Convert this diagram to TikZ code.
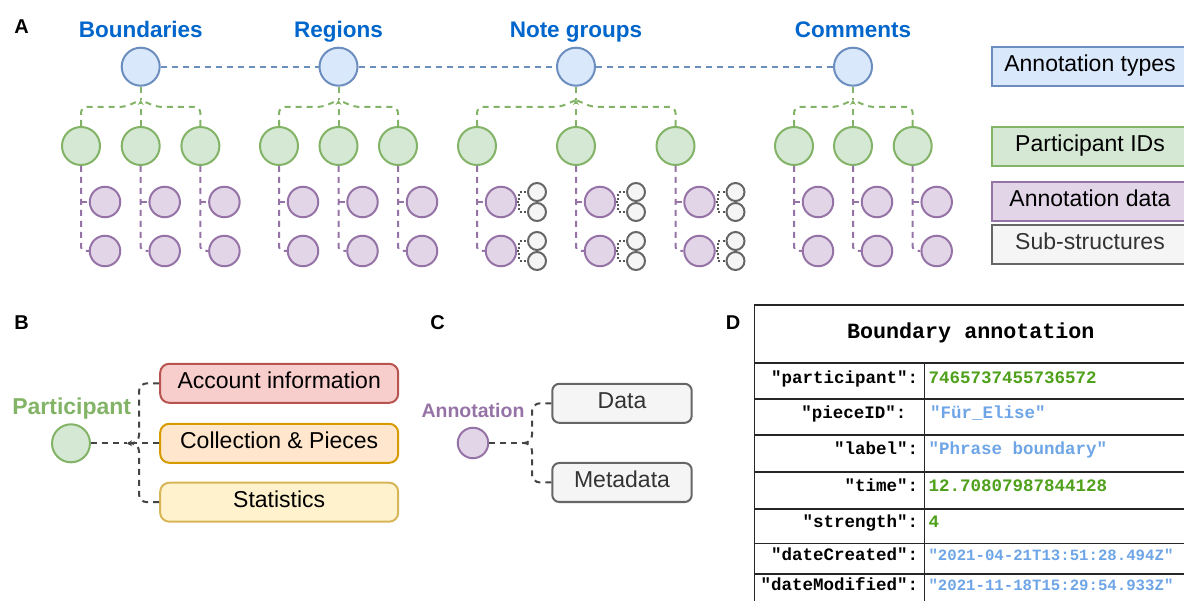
\documentclass[tikz,border=0pt]{standalone}
\usepackage{fontspec}
\setmainfont{Liberation Sans}
\setmonofont{Liberation Mono}
\usetikzlibrary{arrows.meta,calc}
\definecolor{blueF}{HTML}{DAE8FC}\definecolor{blueS}{HTML}{6C8EBF}
\definecolor{greenF}{HTML}{D5E8D4}\definecolor{greenS}{HTML}{82B366}
\definecolor{purpF}{HTML}{E1D5E7}\definecolor{purpS}{HTML}{9673A6}
\definecolor{greyF}{HTML}{F5F5F5}\definecolor{greyS}{HTML}{666666}
\definecolor{redF}{HTML}{F8CECC}\definecolor{redS}{HTML}{B85450}
\definecolor{orangeF}{HTML}{FFE6CC}\definecolor{orangeS}{HTML}{D79B00}
\definecolor{yellowF}{HTML}{FFF2CC}\definecolor{yellowS}{HTML}{D6B656}
\definecolor{titleBlue}{HTML}{0066CC}
\definecolor{valGreen}{HTML}{4FA01A}
\definecolor{valBlue}{HTML}{6EA5E6}
\definecolor{connGrey}{HTML}{444444}
\definecolor{dotGrey}{HTML}{555555}
\begin{document}
\begin{tikzpicture}[x=1pt,y=-1pt,
  circ/.style={circle, line width=2pt, inner sep=0pt},
  topc/.style={circ, minimum size=38pt, fill=blueF, draw=blueS},
  grc/.style={circ, minimum size=38pt, fill=greenF, draw=greenS},
  pc/.style={circ, minimum size=30.5pt, fill=purpF, draw=purpS},
  sc/.style={circ, minimum size=18pt, fill=greyF, draw=greyS},
  title/.style={font=\fontsize{22.5}{27}\selectfont\bfseries, text=titleBlue, anchor=base, inner sep=0pt},
  panel/.style={font=\fontsize{20}{22}\selectfont\bfseries, inner sep=0pt},
  legbox/.style={draw, line width=2pt, minimum width=196pt, minimum height=39pt, inner sep=0pt,
     text height=16pt, text depth=6pt, font=\fontsize{23}{27}\selectfont},
  rbox/.style={legbox, rounded corners=9pt},
  gline/.style={draw=greenS, line width=2pt, dash pattern=on 6pt off 5pt},
  pline/.style={draw=purpS, line width=2pt, dash pattern=on 6pt off 5pt},
  bline/.style={draw=blueS, line width=1.8pt, dash pattern=on 6pt off 5pt},
  dline/.style={draw=dotGrey, line width=2pt, dash pattern=on 2pt off 2.2pt},
  kline/.style={draw=connGrey, line width=2pt, dash pattern=on 6pt off 5pt},
  tline/.style={draw=black!85, line width=1.6pt},
  keyt/.style={font=\fontsize{17.5}{20}\selectfont\ttfamily\bfseries, anchor=base east, inner sep=0pt},
  valt/.style={font=\fontsize{17.5}{20}\selectfont\ttfamily\bfseries, anchor=base west, inner sep=0pt},
  datet/.style={font=\fontsize{15.7}{18}\selectfont\ttfamily\bfseries, anchor=base west, inner sep=0pt, text=valBlue},
  tip/.style={-{Stealth[length=5pt,width=6pt]}}
]
\useasboundingbox (0,0) rectangle (1184,601);
\clip (0,0) rectangle (1184,601);

% ---------------- Panel A ----------------
\node[panel] (labA) at (21.7,27) {A};
\foreach \g/\cx/\a/\b/\c/\lab in {bd/140.7/81/140.7/200.4/Boundaries, rg/338.5/279/338.5/398/Regions, ng/576/477/576/675.5/Note groups, cm/853/794/853/912.7/Comments}{
  \node[title] (t\g) at (\cx,37.3) {\lab};
  \node[topc] (T\g) at (\cx,66.7) {};
  \coordinate (J\g) at (\cx,100);
  \foreach \x [count=\i] in {\a,\b,\c}{
    \node[grc] (G\g\i) at (\x,146) {};
    \node[pc] (P\g\i a) at (\x+24,202) {};
    \node[pc] (P\g\i b) at (\x+24,251) {};
    \draw[pline, rounded corners=4pt] (G\g\i.south) |- (P\g\i b.west);
    \draw[pline] (G\g\i.south |- P\g\i a.west) -- (P\g\i a.west);
  }
  \draw[gline] (T\g.south) -- (J\g);
  \draw[gline, tip] (G\g2.north) -- (J\g);
  \draw[gline, rounded corners=6pt] (G\g1.north) -- (\a,107) -- ({\cx-16},107) -- (J\g);
  \draw[gline, rounded corners=6pt] (G\g3.north) -- (\c,107) -- ({\cx+16},107) -- (J\g);
}
\draw[bline] (Tbd.east) -- (Trg.west);
\draw[bline] (Trg.east) -- (Tng.west);
\draw[bline] (Tng.east) -- (Tcm.west);
% sub-structures for note groups
\foreach \i in {1,2,3}{
  \foreach \r in {a,b}{
    \node[sc] (S\i\r u) at ($(Png\i\r)+(36,-10)$) {};
    \node[sc] (S\i\r d) at ($(Png\i\r)+(36,10)$) {};
    \draw[dline] (Png\i\r.east) -- ++(2,0) |- (S\i\r u.west);
    \draw[dline] (Png\i\r.east) -- ++(2,0) |- (S\i\r d.west);
  }
}
% legend
\node[legbox, fill=blueF, draw=blueS] (legA) at (1090,66.7) {Annotation types};
\node[legbox, fill=greenF, draw=greenS] (legP) at (1090,146.3) {Participant IDs};
\node[legbox, fill=purpF, draw=purpS] (legD) at (1090,201.2) {Annotation data};
\node[legbox, fill=greyF, draw=greyS, text=black!80] (legS) at (1090,245) {Sub-structures};

% ---------------- Panel B ----------------
\node[panel] (labB) at (21.7,322.5) {B};
\node[grc] (part) at (71,443.3) {};
\node[font=\fontsize{23}{27}\selectfont\bfseries, text=greenS, anchor=base, inner sep=0pt] (partl) at (71.7,415) {Participant};
\node[rbox, minimum width=238pt, fill=redF, draw=redS] (acc) at (279.2,383.3) {Account information};
\node[rbox, minimum width=238pt, fill=orangeF, draw=orangeS] (coll) at (279.2,443.3) {Collection \& Pieces};
\node[rbox, minimum width=238pt, fill=yellowF, draw=yellowS] (stat) at (279.2,502.2) {Statistics};
\coordinate (jB) at (127,443.3);
\draw[kline] (part.east) -- (jB);
\draw[kline, rounded corners=8pt] (acc.west) -| (139,443.3) -- (jB);
\draw[kline, rounded corners=8pt] (stat.west) -| (139,443.3) -- (jB);
\draw[kline, -{Stealth[length=5pt,width=6pt]}] (coll.west) -- (jB);

% ---------------- Panel C ----------------
\node[panel] (labC) at (437.5,322.5) {C};
\node[pc] (ann) at (473,443) {};
\node[font=\fontsize{19.5}{23}\selectfont\bfseries, text=purpS, anchor=base, inner sep=0pt] (annl) at (473,417.3) {Annotation};
\node[rbox, minimum width=139.4pt, rounded corners=7pt, fill=greyF, draw=greyS, text=black!80] (data) at (622,403.3) {Data};
\node[rbox, minimum width=139.4pt, rounded corners=7pt, fill=greyF, draw=greyS, text=black!80] (meta) at (622,482.5) {Metadata};
\coordinate (jC) at (524,443);
\draw[kline] (ann.east) -- (jC);
\draw[kline, rounded corners=8pt] (data.west) -| (532,443) -- (jC);
\draw[kline, rounded corners=8pt] (meta.west) -| (532,443) -- (jC);

% ---------------- Panel D ----------------
\node[panel] (labD) at (733,322.5) {D};
\draw[tline] (754.3,305) -- (1190,305);
\draw[tline] (754.3,305) -- (754.3,606);
\draw[tline] (924.3,363.3) -- (924.3,606);
\foreach \yy in {363.3,399.3,435,472.3,509,543.3,574}{
  \draw[tline] (754.3,\yy) -- (1190,\yy);
}
\node[font=\fontsize{21.7}{24}\selectfont\ttfamily\bfseries, anchor=base, inner sep=0pt] (head) at (970.8,338.3) {Boundary annotation};
\node[keyt] (k1) at (918.3,383.3) {"participant":};
\node[valt, text=valGreen] (v1) at (928.3,383.3) {7465737455736572};
\node[keyt] (k2) at (906.7,419) {"pieceID":};
\node[valt, text=valBlue] (v2) at (930,419) {"Für\_Elise"};
\node[keyt] (k3) at (918.3,455) {"label":};
\node[valt, text=valBlue] (v3) at (928.3,455) {"Phrase boundary"};
\node[keyt] (k4) at (918.3,491.7) {"time":};
\node[valt, text=valGreen] (v4) at (928.3,491.7) {12.70807987844128};
\node[keyt] (k5) at (918.3,527.7) {"strength":};
\node[valt, text=valGreen] (v5) at (928.3,527.7) {4};
\node[keyt] (k6) at (918.3,560) {"dateCreated":};
\node[datet] (v6) at (928.3,560) {"2021-04-21T13:51:28.494Z"};
\node[keyt] (k7) at (918.3,590.7) {"dateModified":};
\node[datet] (v7) at (928.3,590.7) {"2021-11-18T15:29:54.933Z"};
\end{tikzpicture}
\end{document}
